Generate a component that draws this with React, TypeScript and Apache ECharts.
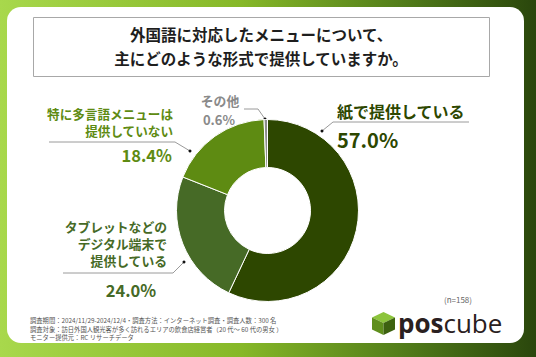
import React, { useEffect, useRef } from "react";
import * as echarts from "echarts";

const titleLines = ["外国語に対応したメニューについて、", "主にどのような形式で提供していますか。"];
const categories = ["紙で提供している", "タブレットなどの\nデジタル端末で\n提供している", "特に多言語メニューは\n提供していない", "その他"];
const values = [57.0, 24.0, 18.4, 0.6];
const sliceColors = ["#2d4700", "#466a26", "#5e8b12", "#8c8c8c"];
const labelColors = ["#2d4700", "#466a26", "#5e8b12", "#8a8a8a"];
const sampleNote = "(n=158)";
const footerLines = [
  "調査期間：2024/11/29-2024/12/4・調査方法：インターネット調査・調査人数：300 名",
  "調査対象：訪日外国人観光客が多く訪れるエリアの飲食店経営者（20 代～ 60 代の男女 ）",
  "モニター提供元：RC リサーチデータ",
];

const FONT = '"Noto Sans CJK JP", "Noto Sans", sans-serif';

export default function App() {
  const ref = useRef<HTMLDivElement>(null);
  useEffect(() => {
    if (!ref.current) return;
    const chart = echarts.init(ref.current, null, { renderer: "svg" });
    const pct = (v: number) => v.toFixed(1) + "%";
    const lineStyle = { stroke: "#9a9a9a", lineWidth: 1, fill: null };
    const dot = (x: number, y: number) => ({ type: "circle", shape: { cx: x, cy: y, r: 1.5 }, style: { fill: "#111" } });
    const txt = (x: number, y: number, text: string, size: number, color: string, align: string, weight = "bold", lh?: number) => ({
      type: "text",
      x,
      y,
      style: {
        text,
        fill: color,
        font: `${weight} ${size}px ${FONT}`,
        textAlign: align,
        textVerticalAlign: "middle",
        lineHeight: lh,
      },
    });
    // multi-line label as separate single-line texts
    const multi = (x: number, yFirst: number, text: string, size: number, color: string, align: string, step: number) =>
      text.split("\n").map((line, i) => txt(x, yFirst + i * step, line, size, color, align));
    const graphic: any[] = [
      { type: "rect", shape: { x: 7, y: 7, width: 517, height: 336, r: 14 }, style: { fill: "#ffffff" }, z: -10 },
      { type: "rect", shape: { x: 33.5, y: 17.5, width: 456, height: 59 }, style: { fill: "#fff", stroke: "#a8a8a8", lineWidth: 1 } },
      txt(261, 34, titleLines[0], 15.5, "#1e1e1e", "center"),
      txt(261, 58, titleLines[1], 15.5, "#1e1e1e", "center"),
      // 紙で提供している
      txt(337, 111, categories[0], 16, labelColors[0], "left"),
      txt(337, 139, pct(values[0]), 20, labelColors[0], "left"),
      { type: "polyline", shape: { points: [[322, 131], [333, 122], [469, 122]] }, style: lineStyle },
      dot(322, 131),
      // その他
      txt(220, 100.5, categories[3], 12.8, labelColors[3], "center"),
      txt(219, 119, pct(values[3]), 13, labelColors[3], "center"),
      { type: "polyline", shape: { points: [[244, 109], [258, 109], [265, 119]] }, style: lineStyle },
      dot(265, 119),
      // 特に多言語
      ...multi(173, 113, categories[2], 12.6, labelColors[2], "right", 17.5),
      txt(172, 155, pct(values[2]), 16.5, labelColors[2], "right"),
      { type: "polyline", shape: { points: [[49, 142], [175, 142], [190, 151]] }, style: lineStyle },
      dot(190, 151),
      // タブレット
      ...multi(167, 226.5, categories[1], 12.8, labelColors[1], "right", 17.2),
      txt(131, 290, pct(values[1]), 16.5, labelColors[1], "center"),
      { type: "polyline", shape: { points: [[63, 273], [173, 273], [184, 262]] }, style: lineStyle },
      dot(184, 262),
      // n
      txt(458, 299, sampleNote, 8, "#666", "center", "normal"),
      // footer
      txt(30, 329, footerLines.join("\n"), 6.3, "#555", "left", "normal", 8.1),
      // logo cube
      { type: "polygon", shape: { points: [[383.5, 312], [395, 317.5], [383.5, 323], [372, 317.5]] }, style: { fill: "#8cc43c" } },
      { type: "polygon", shape: { points: [[372, 317.5], [383.5, 323], [383.5, 335], [372, 329.5]] }, style: { fill: "#5f8f1c" } },
      { type: "polygon", shape: { points: [[383.5, 323], [395, 317.5], [395, 329.5], [383.5, 335]] }, style: { fill: "#3d6210" } },
      {
        type: "text",
        x: 398,
        y: 323,
        style: {
          text: "{a|pos}{b|cube}",
          textVerticalAlign: "middle",
          rich: {
            a: { font: `bold 26px "Open Sans", sans-serif`, fill: "#2a2020" },
            b: { font: `normal 26px "Open Sans", sans-serif`, fill: "#2a2020" },
          },
        },
      },
    ];
    chart.setOption({
      animation: false,
      backgroundColor: {
        type: "linear",
        x: 0,
        y: 0,
        x2: 1,
        y2: 0,
        colorStops: [
          { offset: 0, color: "#a8d84c" },
          { offset: 0.45, color: "#86b828" },
          { offset: 0.75, color: "#527d1a" },
          { offset: 1, color: "#2a460c" },
        ],
      },
      graphic,
      series: [
        {
          type: "pie",
          center: [267.5, 210.5],
          radius: [43, 91],
          startAngle: 90,
          clockwise: true,
          label: { show: false },
          labelLine: { show: false },
          emphasis: { disabled: true },
          itemStyle: { borderColor: "#ffffff", borderWidth: 1 },
          data: categories.map((c, i) => ({ name: c, value: values[i], itemStyle: { color: sliceColors[i] } })),
          z: 5,
        },
      ],
    });
    return () => chart.dispose();
  }, []);
  return <div ref={ref} style={{ position: "fixed", left: 0, top: 0, width: 536, height: 357 }} />;
}
